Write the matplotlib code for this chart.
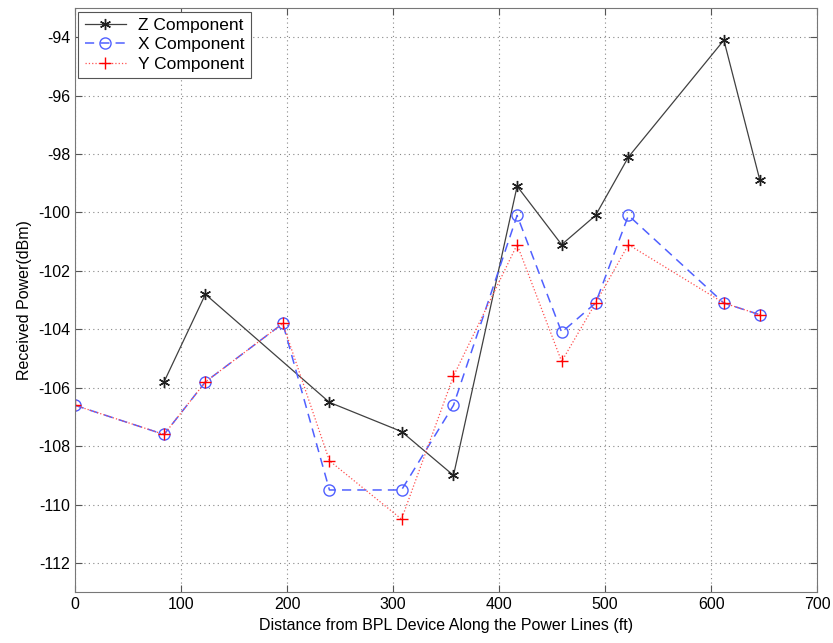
import matplotlib
matplotlib.use("Agg")
from matplotlib import pyplot as plt

plt.rcParams['font.family'] = ['Liberation Sans', 'DejaVu Sans']
plt.rcParams['axes.unicode_minus'] = False

# distances (ft) and received power (dBm)
dist_z = [84, 123, 240, 308, 357, 417, 459, 491, 522, 612, 646]
power_z = [-105.8, -102.8, -106.5, -107.5, -109.0, -99.1, -101.1, -100.1, -98.1, -94.1, -98.9]

dist_xy = [0, 84, 123, 196, 240, 308, 357, 417, 459, 491, 522, 612, 646]
power_x = [-106.6, -107.6, -105.8, -103.8, -109.5, -109.5, -106.6, -100.1, -104.1, -103.1, -100.1, -103.1, -103.5]
power_y = [-106.6, -107.6, -105.8, -103.8, -108.5, -110.5, -105.6, -101.1, -105.1, -103.1, -101.1, -103.1, -103.5]

xticks = list(range(0, 701, 100))
yticks = list(range(-112, -93, 2))

fig = plt.figure(figsize=(8.33, 6.43), dpi=100)
ax = fig.add_axes([0.09, 0.079, 0.891, 0.9085])

ax.plot(dist_z, power_z, '-', color='#404040', lw=0.9, marker=(6, 2, 0), ms=8,
        mec='#202020', mew=1.0, label='Z Component')
ax.plot(dist_xy, power_x, '--', color='#5060ff', lw=1.1, dashes=(6, 4), marker='o',
        ms=8, mfc='none', mec='#5060ff', mew=1.0, label='X Component')
ax.plot(dist_xy, power_y, ':', color='#ff5050', lw=0.9, marker='+', ms=9,
        mec='red', mew=1.0, label='Y Component')

ax.set_xlim(0, 700)
ax.set_ylim(-113, -93)
ax.set_xticks(xticks)
ax.set_yticks(yticks)
ax.tick_params(direction='in', length=5, labelsize=11.5, color='#555555')
ax.tick_params(top=True, right=True)
ax.grid(True, linestyle=(0, (1, 3)), color='#888888', lw=0.8)
for s in ax.spines.values():
    s.set_color('#777777')

ax.set_xlabel('Distance from BPL Device Along the Power Lines (ft)', fontsize=11.5)
ax.set_ylabel('Received Power(dBm)', fontsize=11.5)

leg = ax.legend(loc='upper left', fontsize=12.5, fancybox=False, framealpha=1,
                edgecolor='#555555', borderaxespad=0.2, handlelength=2.4,
                handletextpad=0.7, labelspacing=0.25, borderpad=0.35)
leg.get_frame().set_linewidth(0.8)

fig.savefig('out.png', dpi=100)
